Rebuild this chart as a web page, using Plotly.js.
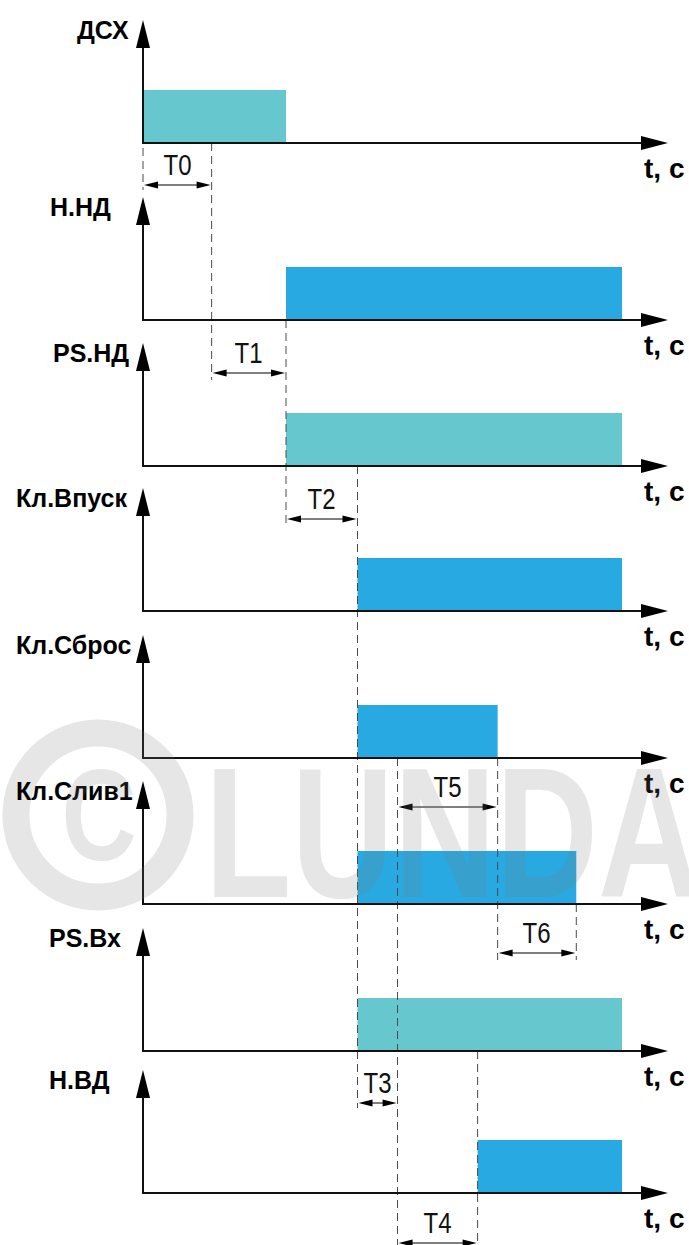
<!DOCTYPE html>
<html>
<head>
<meta charset="utf-8">
<script src="https://cdn.plot.ly/plotly-3.0.1.min.js"></script>
<style>html,body{margin:0;padding:0;background:#fff;}#chart{width:689px;height:1245px;}</style>
</head>
<body>
<div id="chart"></div>
<script>
// ---------- data ----------
const signals   = ['ДСХ', 'Н.НД', 'PS.НД', 'Кл.Впуск', 'Кл.Сброс', 'Кл.Слив1', 'PS.Вх', 'Н.ВД'];
const onTimes   = [0, 10, 10, 15, 15, 15, 15, 23.4];
const offTimes  = [10, 33.5, 33.5, 33.5, 24.8, 30.3, 33.5, 33.5];
const levels    = [1, 1, 1, 1, 1, 1, 1, 1];
const kinds     = ['sensor', 'actuator', 'sensor', 'actuator', 'actuator', 'actuator', 'sensor', 'actuator'];
const intervalNames = ['T0', 'T1', 'T2', 'T3', 'T4', 'T5', 'T6'];
const intervalStart = [0, 4.8, 10, 15, 17.8, 17.8, 24.8];
const intervalEnd   = [4.8, 10, 15, 17.8, 23.4, 24.8, 30.3];
const axisLabel = 't, c';
const watermark = 'LUNDA';

// ---------- layout constants (pixels) ----------
const W = 689, H = 1245;
const K = 14.3;          // px per time unit
const X0 = 143;          // px of t = 0 (time axis origin)
const t = px => (px - X0) / K;            // px -> time units
const baseY = [143, 320, 466, 611, 758, 904, 1051, 1193]; // lane baselines
const barH = 53;         // px of level 1
const axisH = 123;       // y arrow height
const axisEnd = 668;     // px of time-axis arrow tip
const colors = {sensor: '#66C7CF', actuator: '#29A9E1'};
const labelPos = [ // [x px, anchor]
  [131, 'right'], [113, 'right'], [131, 'right'], [129, 'right'],
  [133, 'right'], [135, 'right'], [47, 'left'], [47, 'left']
];
const intervalY = [185, 373, 519, 1103, 1243, 807, 953];
const guides = [
  [intervalStart[0], 148, 190],
  [intervalEnd[0], 143, 380],
  [onTimes[1], 320, 527],
  [onTimes[3], 466, 1108],
  [intervalEnd[3], 758, 1245],
  [onTimes[7], 1051, 1245],
  [offTimes[4], 758, 960],
  [offTimes[5], 904, 960]
];

// ---------- traces ----------
const traces = ['sensor', 'actuator'].map(kind => {
  const idx = signals.map((s, i) => i).filter(i => kinds[i] === kind);
  return {
    type: 'bar', orientation: 'h',
    y: idx.map(i => baseY[i] - levels[i] * barH / 2),
    x: idx.map(i => offTimes[i] - onTimes[i]),
    base: idx.map(i => onTimes[i]),
    width: idx.map(i => levels[i] * barH),
    marker: {color: colors[kind], line: {width: 0}},
    hoverinfo: 'skip', showlegend: false
  };
});

// ---------- shapes & annotations ----------
const shapes = [];
const annotations = [];
const narrowIdx = {};   // annotation index -> [horizontal scale, anchor]
const sansB = {family: 'Liberation Sans, Arial, sans-serif', size: 25, color: '#000', weight: 'bold'};
const tFont = {family: 'Liberation Sans, Arial, sans-serif', size: 30, color: '#111'};

guides.forEach(g => shapes.push({
  type: 'line', xref: 'x', yref: 'y', x0: g[0], x1: g[0], y0: g[1], y1: g[2],
  line: {color: '#4a4a4a', width: 1, dash: '8px,5px'}, layer: 'above'
}));

function arrowHead(xTip, yTip, dir, len, half) {
  let p;
  if (dir === 'up') {
    p = `M ${xTip - half / K},${yTip + len} L ${xTip},${yTip} L ${xTip + half / K},${yTip + len} Z`;
  } else if (dir === 'right') {
    p = `M ${xTip - len / K},${yTip - half} L ${xTip},${yTip} L ${xTip - len / K},${yTip + half} Z`;
  } else {
    p = `M ${xTip + len / K},${yTip - half} L ${xTip},${yTip} L ${xTip + len / K},${yTip + half} Z`;
  }
  shapes.push({type: 'path', xref: 'x', yref: 'y', path: p,
    fillcolor: '#000', line: {width: 0}, layer: 'above'});
}

signals.forEach((name, i) => {
  const b = baseY[i];
  shapes.push({type: 'line', xref: 'x', yref: 'y', x0: 0, x1: t(axisEnd - 15), y0: b, y1: b,
    line: {color: '#111', width: 2}, layer: 'above'});
  arrowHead(t(axisEnd), b, 'right', 27, 7);
  shapes.push({type: 'line', xref: 'x', yref: 'y', x0: 0, x1: 0, y0: b + 1, y1: b - axisH + 15,
    line: {color: '#111', width: 2}, layer: 'above'});
  arrowHead(0, b - axisH, 'up', 28, 7);
  annotations.push({xref: 'x', yref: 'y', x: t(labelPos[i][0]), y: b - axisH + 10,
    text: name, showarrow: false, xanchor: labelPos[i][1], yanchor: 'middle', font: sansB});
  annotations.push({xref: 'x', yref: 'y', x: t(642), y: b + 25,
    text: axisLabel, showarrow: false, xanchor: 'left', yanchor: 'middle',
    font: {family: 'Liberation Sans, Arial, sans-serif', size: 28, color: '#000', weight: 'bold'}});
});

intervalNames.forEach((nm, i) => {
  const y = intervalY[i];
  const a = intervalStart[i], e = intervalEnd[i];
  shapes.push({type: 'line', xref: 'x', yref: 'y', x0: a + 5 / K, x1: e - 5 / K, y0: y, y1: y,
    line: {color: '#000', width: 1}, layer: 'above'});
  arrowHead(a + 1 / K, y, 'left', 14, 3.5);
  arrowHead(e - 1 / K, y, 'right', 14, 3.5);
  narrowIdx[annotations.length] = [0.8, 'center'];
  annotations.push({xref: 'x', yref: 'y', x: (a + e) / 2, y: y - 21, text: nm,
    showarrow: false, xanchor: 'center', yanchor: 'middle', font: tFont});
});

// watermark
const wm = 'rgba(120,120,120,0.19)';
shapes.push({type: 'circle', xref: 'x', yref: 'y', x0: t(98 - 82), x1: t(98 + 82), y0: 815 - 82, y1: 815 + 82,
  line: {color: wm, width: 27}, fillcolor: 'rgba(0,0,0,0)', layer: 'above'});
narrowIdx[annotations.length] = [0.8, 'center'];
annotations.push({xref: 'x', yref: 'y', x: t(99), y: 815, text: 'C', showarrow: false,
  xanchor: 'center', yanchor: 'middle',
  font: {family: 'Liberation Sans, sans-serif', size: 130, color: wm, weight: 'bold'}});
narrowIdx[annotations.length] = [0.765, 'left'];
annotations.push({xref: 'x', yref: 'y', x: t(203), y: 833, text: watermark, showarrow: false,
  xanchor: 'left', yanchor: 'middle',
  font: {family: 'Liberation Sans, sans-serif', size: 185, color: wm, weight: 'bold'}});

const layout = {
  width: W, height: H,
  margin: {l: 0, r: 0, t: 0, b: 0, pad: 0},
  paper_bgcolor: '#fff', plot_bgcolor: '#fff',
  showlegend: false, barmode: 'overlay',
  xaxis: {range: [t(0), t(W)], visible: false, fixedrange: true},
  yaxis: {range: [H, 0], visible: false, fixedrange: true},
  shapes: shapes, annotations: annotations
};

Plotly.newPlot('chart', traces, layout, {staticPlot: true, displayModeBar: false}).then(gd => {
  // condense narrow-face texts horizontally (no narrow font installed)
  gd.querySelectorAll('g.annotation').forEach(g => {
    const k = g.getAttribute('data-index');
    if (!(k in narrowIdx)) return;
    const [s, anchor] = narrowIdx[k];
    const txt = g.querySelector('text.annotation-text');
    if (!txt) return;
    const bb = txt.getBBox();
    const cx = anchor === 'left' ? bb.x : bb.x + bb.width / 2;
    txt.setAttribute('transform', `translate(${cx},0) scale(${s},1) translate(${-cx},0)`);
  });
});
</script>
</body>
</html>
